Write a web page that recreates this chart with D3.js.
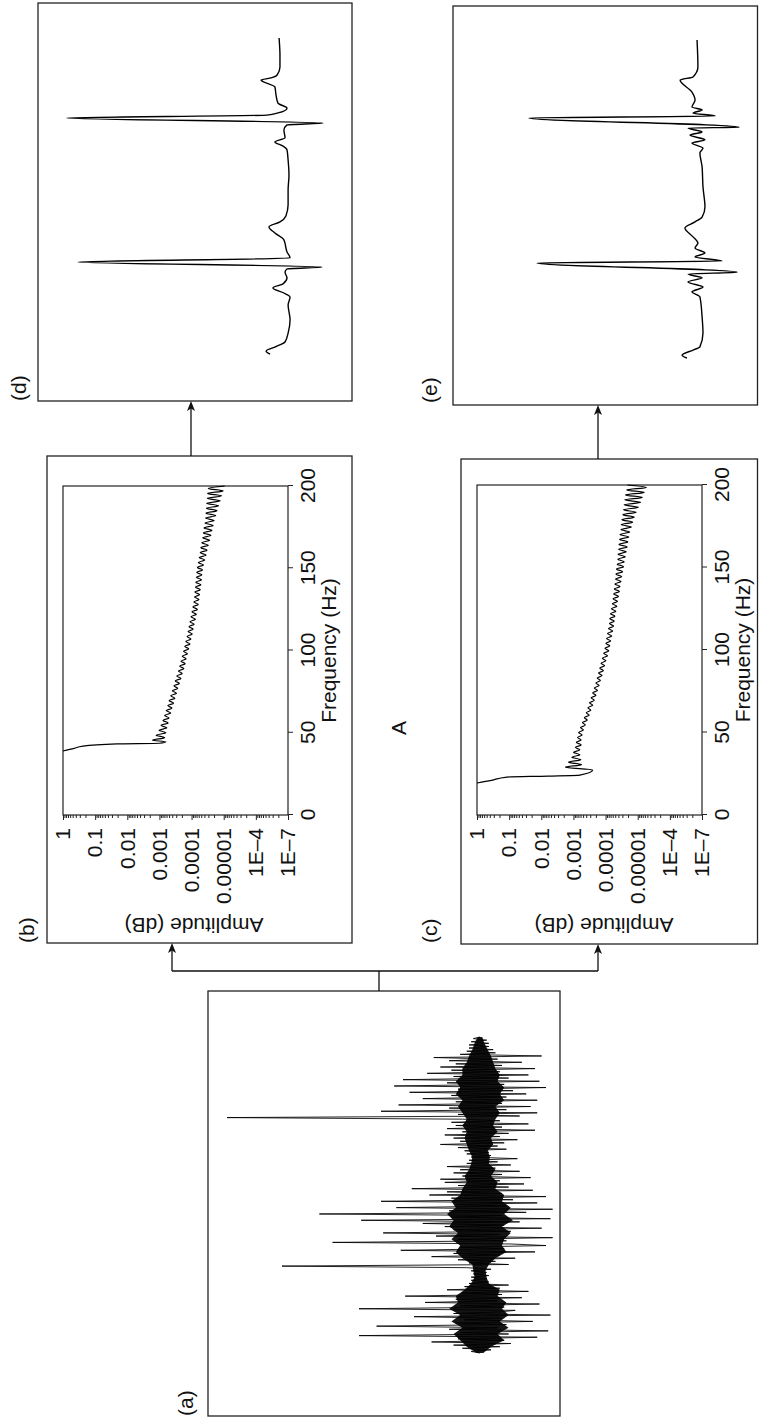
<!DOCTYPE html>
<html><head><meta charset="utf-8">
<script src="https://cdn.jsdelivr.net/npm/d3@7"></script>
<style>
body{margin:0;background:#fff}
svg{display:block}
text{font-family:"Liberation Sans",Arial,Helvetica,sans-serif;fill:#111}
</style>
</head><body>
<svg id="fig" width="759" height="1421"></svg>
<script>
// ---------------- DATA ----------------
// (a) raw noisy ECG, sample values (arbitrary units), 201 samples
const rawECG = [0,0.4,-0.5,0.8,-0.9,1.2,-1.4,2.2,-1.1,1.0,-2.6,5.5,-1.3,0.9,-3.1,1.4,-0.8,4.7,-1.2,1.1,
-2.4,0.7,-1.0,3.0,-3.2,1.2,-0.9,-1.6,5.5,-1.1,0.9,-2.7,2.5,-0.8,1.1,-1.9,3.4,-1.0,0.8,-2.2,
1.5,-0.9,0.7,-1.3,0.5,-0.4,0.4,-0.3,0.4,-0.4,0.3,-0.3,0.4,-0.5,0.6,9.0,-1.3,0.5,-0.7,1.0,
-1.6,2.2,-0.9,1.2,-2.5,3.6,-1.1,0.9,-3.0,-1.4,6.7,-1.2,1.0,-3.3,2.0,-0.9,4.4,-1.4,1.2,-2.8,
1.6,-1.1,2.6,-1.8,5.4,-3.2,1.3,-1.0,7.3,-2.1,1.4,-3.3,3.8,-1.2,1.1,-2.6,4.5,-1.5,1.3,-3.0,
2.3,-1.0,1.5,-2.4,3.1,-1.3,1.0,-2.0,1.6,-0.9,1.8,-2.3,0.8,-1.0,1.2,-1.8,0.9,-0.7,1.5,-1.4,
0.6,-0.8,0.5,-1.7,0.4,-0.5,0.6,-0.4,0.7,-1.2,1.0,-0.8,1.8,-1.1,0.9,-1.7,1.2,-0.9,1.6,-1.3,
0.8,-2.5,1.5,-1.0,1.1,-2.2,1.3,-0.9,0.8,11.5,-1.8,1.0,-2.6,4.5,-1.2,1.4,-2.3,3.7,-1.0,1.1,
-2.6,2.6,-1.2,1.3,-2.1,3.2,-1.5,1.0,-3.0,3.9,-1.1,1.5,-2.7,3.5,-1.3,1.2,-2.2,2.4,-0.9,1.3,
-2.5,1.8,-1.0,1.1,-1.9,1.4,-0.8,2.1,-2.8,0.9,-0.7,0.6,-0.6,0.5,-0.4,0.5,-0.4,0.4,-0.3,0.3,0];
// (a) dense noise core: sample index, upper / lower extent (same units)
const coreIndex = [0,4,8,12,16,20,24,28,32,36,40,44,48,52,56,60,64,68,72,76,
80,84,88,92,96,100,104,108,112,116,120,124,128,132,136,140,144,148,152,156,
160,164,168,172,176,180,184,188,192,196,200];
const coreUpper = [0.15,0.6,0.9,1.2,0.8,1.3,0.9,1.4,1.0,1.1,0.7,0.4,0.25,0.3,0.35,0.8,1.1,0.9,1.3,1.0,
1.4,1.2,1.5,1.1,1.3,0.9,0.8,0.6,0.7,0.5,0.4,0.35,0.5,0.6,0.7,0.6,0.8,0.6,0.8,1.0,
0.8,1.1,0.9,1.1,0.8,0.8,0.6,0.5,0.35,0.25,0.1];
const coreLower = [-0.15,-0.5,-1.1,-0.8,-1.3,-0.9,-1.3,-1.0,-1.2,-0.8,-0.9,-0.4,-0.3,-0.25,-0.4,-0.7,-1.2,-1.0,-1.1,-1.4,
-1.0,-1.5,-1.1,-1.4,-1.0,-1.1,-0.7,-0.8,-0.5,-0.7,-0.4,-0.45,-0.35,-0.6,-0.5,-0.8,-0.6,-0.7,-0.9,-0.7,
-1.1,-0.9,-1.1,-0.8,-0.9,-0.7,-0.6,-0.5,-0.35,-0.2,-0.1];

// (b),(c) spectra: sampled frequencies (Hz) of the ripple part
const rippleFreqs = [29,30.5,32,33.5,35,36.5,38,39.5,41,42.5,44,45.5,47,48.5,50,51.5,53,54.5,56,57.5,
59,60.5,62,63.5,65,66.5,68,69.5,71,72.5,74,75.5,77,78.5,80,81.5,83,84.5,86,87.5,
89,90.5,92,93.5,95,96.5,98,99.5,101,102.5,104,105.5,107,108.5,110,111.5,113,114.5,116,117.5,
119,120.5,122,123.5,125,126.5,128,129.5,131,132.5,134,135.5,137,138.5,140,141.5,143,144.5,146,147.5,
149,150.5,152,153.5,155,156.5,158,159.5,161,162.5,164,165.5,167,168.5,170,171.5,173,174.5,176,177.5,
179,180.5,182,183.5,185,186.5,188,189.5,191,192.5,194,195.5,197,198.5,200];

// (b) spectrum: filter edge (Hz / dB) then ripple from 45.5 Hz (dB)
const edgeFreqB = [38.9,40.5,41.9,43.2,43.6,44.5];
const edgeDbB   = [0,-7,-12.4,-33.6,-60,-64];
const rippleDbB = [-55.8,-63.2,-58.0,-64.0,-59.8,-64.6,-61.0,-65.4,-62.2,-66.0,
-63.2,-67.0,-64.2,-67.8,-65.2,-68.8,-66.0,-69.6,-67.0,-70.6,
-68.0,-71.4,-69.0,-72.4,-69.8,-73.4,-70.8,-74.2,-71.8,-75.2,
-72.6,-76.0,-73.4,-76.6,-74.2,-77.4,-75.0,-78.2,-75.8,-79.0,
-76.4,-79.6,-77.2,-80.4,-77.8,-81.0,-78.4,-81.6,-79.0,-82.4,
-79.6,-83.0,-80.2,-83.6,-80.8,-84.2,-81.4,-84.6,-81.8,-85.0,
-82.0,-85.4,-82.4,-85.8,-82.6,-86.2,-83.0,-86.4,-83.2,-86.8,
-83.6,-87.4,-84.2,-88.2,-84.8,-89.0,-85.4,-89.6,-85.8,-90.4,
-86.4,-91.2,-87.0,-92.0,-87.4,-92.6,-87.8,-93.4,-88.4,-94.0,
-88.8,-95.0,-89.0,-95.8,-89.2,-96.8,-89.4,-97.8,-89.8,-98.6,
-90.0,-99.6,-90.4,-100.6];

// (c) spectrum: filter edge then ripple from 29 Hz (dB)
const edgeFreqC = [19.4,21,23,23.6,24.2,27.3];
const edgeDbC   = [0,-9,-18.6,-44,-64,-72];
const rippleDbC = [-55.0,-65.0,-57.0,-64.6,-59.0,-64.0,-60.0,-64.0,-61.2,-64.8,
-61.8,-64.8,-62.6,-65.4,-63.2,-66.2,-64.4,-67.4,-65.6,-68.6,
-66.8,-69.8,-68.0,-70.8,-69.0,-72.0,-70.0,-73.0,-71.0,-74.0,
-72.0,-75.0,-73.0,-76.0,-74.0,-76.8,-74.8,-77.8,-75.6,-78.6,
-76.4,-79.4,-77.2,-80.2,-78.0,-81.2,-78.8,-82.0,-79.6,-82.6,
-80.2,-83.2,-80.6,-83.8,-81.2,-84.4,-81.8,-85.0,-82.4,-85.4,
-82.6,-85.8,-83.0,-86.4,-83.6,-87.0,-84.2,-87.4,-84.6,-88.0,
-85.0,-88.6,-85.4,-89.0,-85.8,-89.6,-86.2,-90.0,-86.4,-90.6,
-86.8,-91.2,-87.2,-91.6,-87.6,-92.2,-87.8,-92.8,-88.2,-93.4,
-88.4,-93.8,-88.8,-94.4,-89.0,-95.0,-89.6,-96.0,-89.8,-96.8,
-90.2,-97.8,-90.8,-99.0,-91.2,-100.4,-91.6,-101.8,-92.0,-102.8,
-92.4,-104.0,-93.2,-105.4,-93.6];

// (d) filtered ECG from (b): time (0-10) / amplitude
const timeD = [0,0.09,0.22,0.38,0.66,1.08,1.55,1.80,1.93,2.09,2.22,2.41,2.59,2.69,2.75,2.91,3.04,3.23,3.61,3.83,
4.02,4.18,4.37,4.72,5.19,5.66,6.14,6.46,6.58,6.71,6.84,7.09,7.25,7.31,7.47,7.56,7.63,7.78,7.94,8.20,
8.45,8.67,8.73,8.83,9.08,9.46,10.0];
const ampD = [0.77,0.95,0.55,0.09,-0.05,-0.14,-0.05,-0.14,0.14,0.64,0.18,0,0.09,0,-1.59,9.5,-0.14,0,0.14,0.55,
0.82,0.32,0.05,-0.05,-0.05,-0.09,-0.05,0,0.18,0.55,0.09,0.14,0,-1.64,10.0,0.91,0.41,0,0.41,0.5,
0.55,1.18,0.77,0.45,0.32,0.32,0.36];

// (e) filtered ECG from (c)
const timeE = [0,0.09,0.25,0.35,0.79,1.29,1.92,2.08,2.23,2.39,2.52,2.64,2.70,2.99,3.05,3.18,3.30,3.46,3.62,3.81,
4.09,4.28,4.43,4.75,5.38,6.01,6.45,6.60,6.76,6.86,7.01,7.11,7.23,7.26,7.55,7.61,7.70,7.80,7.89,8.11,
8.36,8.74,8.84,9.15,10.0];
const ampE = [0.64,0.86,0.36,0.05,-0.09,-0.05,0.05,0.41,-0.09,0.59,-0.05,0.59,-1.64,7.45,-0.95,0.27,-0.18,0.27,0.14,0.36,
0.73,0.27,-0.05,-0.18,-0.09,-0.05,0.05,-0.09,0.41,-0.18,0.5,-0.05,0.59,-1.73,7.82,-0.64,0.36,-0.05,0.41,0.27,
0.41,0.95,0.36,0.14,0.18];

// axis ticks / labels
const freqTicks = [0,50,100,150,200];
const ampTicks = [1,1e-1,1e-2,1e-3,1e-4,1e-5,1e-6,1e-7];
const ampTickLabels = ["1","0.1","0.01","0.001","0.0001","0.00001","1E\u20134","1E\u20137"];

// ---------------- DRAW ----------------
const svg = d3.select("#fig");
// the whole figure is laid out landscape and turned a quarter turn counter-clockwise
const g = svg.append("g").attr("transform","translate(0,1421) rotate(-90)");
const INK = "#111";
const FS = 21;

function box(x,y,w,h){
  g.append("rect").attr("x",x).attr("y",y).attr("width",w).attr("height",h)
   .attr("fill","none").attr("stroke","#222").attr("stroke-width",1.3);
}
function label(txt,x,y,anchor){
  return g.append("text").attr("x",x).attr("y",y).attr("font-size",FS)
   .attr("text-anchor",anchor||"start").text(txt);
}
function arrow(x1,y,x2){ // horizontal (landscape) arrow ending at x2
  g.append("line").attr("x1",x1).attr("y1",y).attr("x2",x2-7).attr("y2",y)
   .attr("stroke",INK).attr("stroke-width",1.3);
  g.append("path").attr("d",`M${x2},${y} L${x2-10},${y-4} L${x2-7.5},${y} L${x2-10},${y+4} Z`).attr("fill",INK);
}

// panel frames
box(5,208,425,352);      // (a)
box(478,47,487,305);     // (b)
box(477,461,485,296.5);  // (c)
box(1020,38,398,314);    // (d)
box(1016,453,399,304.5); // (e)

label("(a)",5,193);
label("(b)",478,34);
label("(c)",478,437);
label("(d)",1020,26);
label("(e)",1018,437);
label("A",693,406,"middle");

// connectors
g.append("path").attr("d","M430,379 L450,379 M450,172 L450,598").attr("fill","none")
 .attr("stroke",INK).attr("stroke-width",1.3);
arrow(450,172,478);
arrow(450,598,477);
arrow(965,191,1020);
arrow(962,598,1016);

// (a) raw signal
const xA = d3.scaleLinear().domain([0,rawECG.length-1]).range([68,384]);
const yA = d3.scaleLinear().domain([0,1]).range([480,458]);
g.append("path").datum(coreIndex.map((k,i)=>[k,coreUpper[i],coreLower[i]]))
 .attr("d",d3.area().x(d=>xA(d[0])).y0(d=>yA(d[2])).y1(d=>yA(d[1])))
 .attr("fill","#151515").attr("stroke","none");
g.append("path").datum(rawECG)
 .attr("d",d3.line().x((d,i)=>xA(i)).y(d=>yA(d)))
 .attr("fill","none").attr("stroke","#000").attr("stroke-width",0.85).attr("stroke-linejoin","miter");

// (d),(e) filtered signals
function trace(times,vals,x0,x1,base){
  const xs = d3.scaleLinear().domain([0,10]).range([x0,x1]);
  const ys = d3.scaleLinear().domain([0,1]).range([base,base-22]);
  g.append("path").datum(times.map((t,i)=>[t,vals[i]]))
   .attr("d",d3.line().x(d=>xs(d[0])).y(d=>ys(d[1])).curve(d3.curveMonotoneX))
   .attr("fill","none").attr("stroke","#000").attr("stroke-width",1.4);
}
trace(timeD,ampD,1067,1383,287);
trace(timeE,ampE,1063,1381,701);

// spectra
function spectrum(x0,x1,y0,y1,edgeF,edgeDb,ripF,ripDb,ampLabelV){
  const xs = d3.scaleLinear().domain([0,200]).range([x0,x1]);
  const ys = d3.scaleLog().domain([1,1e-7]).range([y0,y1]);
  g.append("rect").attr("x",x0).attr("y",y0).attr("width",x1-x0).attr("height",y1-y0)
   .attr("fill","none").attr("stroke","#222").attr("stroke-width",1.2);
  const minor = [];
  for(const dec of ampTicks.slice(1)) for(let k=2;k<=9;k++) minor.push(k*dec);
  const axm = g.append("g").attr("transform",`translate(${x0},0)`)
   .call(d3.axisLeft(ys).tickValues(minor).tickSize(3).tickFormat(""));
  axm.select(".domain").remove();
  const ay = g.append("g").attr("transform",`translate(${x0},0)`)
   .call(d3.axisLeft(ys).tickValues(ampTicks).tickSize(5).tickPadding(8)
         .tickFormat((d,i)=>ampTickLabels[i]));
  ay.select(".domain").remove();
  ay.selectAll("text").attr("font-size",FS).attr("font-family",null);
  const ax = g.append("g").attr("transform",`translate(0,${y1})`)
   .call(d3.axisBottom(xs).tickValues(freqTicks).tickSize(5).tickPadding(7));
  ax.select(".domain").remove();
  ax.selectAll("text").attr("font-size",FS).attr("font-family",null);
  g.selectAll(".tick line").attr("stroke","#222");
  label("Frequency (Hz)",(x0+x1)/2,y1+48,"middle");
  g.append("text").attr("transform",`translate(503,${ampLabelV}) rotate(-90)`)
   .attr("font-size",FS).attr("text-anchor","middle").text("Amplitude (dB)");
  const pts = edgeF.map((f,i)=>[f,edgeDb[i]]).concat(ripF.map((f,i)=>[f,ripDb[i]]));
  g.append("path").datum(pts)
   .attr("d",d3.line().x(d=>xs(d[0])).y(d=>ys(Math.pow(10,d[1]/20))).curve(d3.curveMonotoneX))
   .attr("fill","none").attr("stroke","#000").attr("stroke-width",1.2);
}
spectrum(606,935,63,288,edgeFreqB,edgeDbB,rippleFreqs.slice(rippleFreqs.length-rippleDbB.length),rippleDbB,194);
spectrum(606,936,477,702,edgeFreqC,edgeDbC,rippleFreqs,rippleDbC,604);
</script>
</body></html>
